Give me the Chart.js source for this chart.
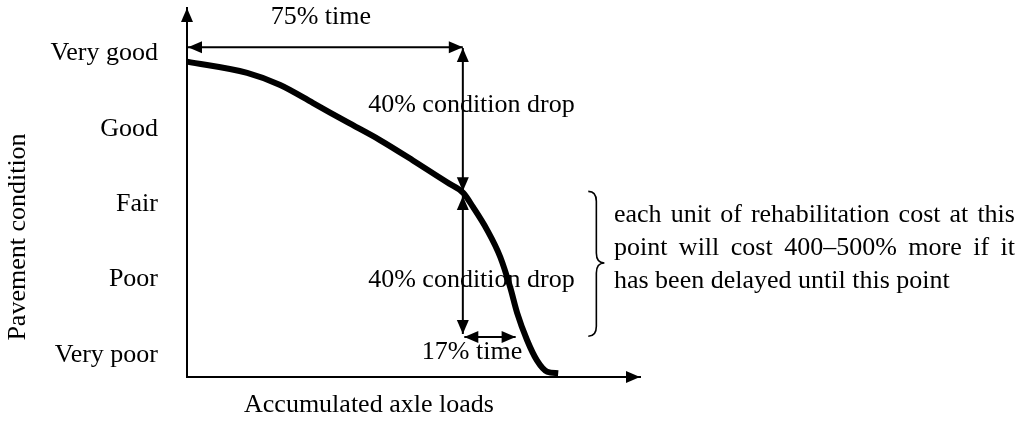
<!DOCTYPE html>
<html>
<head>
<meta charset="utf-8">
<script src="https://cdn.jsdelivr.net/npm/chart.js@4.4.0/dist/chart.umd.min.js"></script>
<style>
html, body { margin: 0; padding: 0; background: #fff; }
#wrap { width: 1024px; height: 425px; position: relative; }
</style>
</head>
<body>
<div id="wrap"><canvas id="deterioro"></canvas></div>
<script>
// curve: x = share of the life (% of time / axle loads), y = condition level
var loadPct = [0, 16.4, 25.4, 34.4, 43.6, 52.6, 61.6, 70.9, 75.3, 78.0, 81.8, 85.4, 88.1, 90.0, 92.7, 95.4, 98.2, 101.2];
var condition = [4.89, 4.74, 4.58, 4.34, 4.09, 3.85, 3.58, 3.29, 3.15, 2.96, 2.66, 2.30, 1.90, 1.56, 1.20, 0.93, 0.78, 0.76];
var conditionLevels = [1, 2, 3, 4, 5];
var conditionLabels = ['Very poor', 'Poor', 'Fair', 'Good', 'Very good'];
var noteLines = ['each unit of rehabilitation cost at this', 'point will cost 400\u2013500% more if it', 'has been delayed until this point'];

var FAMILY = '"Liberation Serif", "Times New Roman", serif';
var FONT = '26px ' + FAMILY;

function head(ctx, x, y, ang, len, half) {
    ctx.save();
    ctx.translate(x, y);
    ctx.rotate(ang);
    ctx.beginPath();
    ctx.moveTo(0, 0);
    ctx.lineTo(-len, -half);
    ctx.lineTo(-len, half);
    ctx.closePath();
    ctx.fill();
    ctx.restore();
}

// line with an arrow head on both ends
function dim(ctx, x1, y1, x2, y2) {
    var ang = Math.atan2(y2 - y1, x2 - x1);
    ctx.lineWidth = 2;
    ctx.beginPath();
    ctx.moveTo(x1, y1);
    ctx.lineTo(x2, y2);
    ctx.stroke();
    head(ctx, x2, y2, ang, 14, 6);
    head(ctx, x1, y1, ang + Math.PI, 14, 6);
}

function justified(ctx, text, x, y, w) {
    var words = text.split(' ');
    var sum = 0;
    words.forEach(function (wd) { sum += ctx.measureText(wd).width; });
    var gap = (w - sum) / (words.length - 1);
    var cx = x;
    words.forEach(function (wd) {
        ctx.fillText(wd, cx, y);
        cx += ctx.measureText(wd).width + gap;
    });
}

function noPad(s) {
    s.paddingTop = 0; s.paddingBottom = 0; s.paddingLeft = 0; s.paddingRight = 0;
}

var notas = {
    id: 'notas',
    afterDraw: function (chart) {
        var ctx = chart.ctx;
        var xs = chart.scales.x, ys = chart.scales.y;
        var a = chart.chartArea;
        var px = function (v) { return xs.getPixelForValue(v); };
        var py = function (v) { return ys.getPixelForValue(v); };
        ctx.save();
        ctx.fillStyle = '#000';
        ctx.strokeStyle = '#000';

        // axis arrows
        head(ctx, a.left, a.top, -Math.PI / 2, 14, 6);
        head(ctx, a.right, a.bottom, 0, 14, 6);

        // dimension arrows
        dim(ctx, px(0) + 1, py(5.08), px(75.2), py(5.08));
        dim(ctx, px(75.2), py(5.07), px(75.2), py(3.17));
        dim(ctx, px(75.2), py(3.11), px(75.2), py(1.28));
        dim(ctx, px(75.6), py(1.24), px(89.6), py(1.24));

        ctx.font = FONT;
        ctx.textBaseline = 'middle';
        ctx.textAlign = 'center';
        ctx.fillText('75% time', px(36.5), py(5.48));
        ctx.fillText('17% time', px(77.7), py(1.04));
        ctx.textAlign = 'left';
        ctx.fillText('40% condition drop', px(49.4), py(4.31));
        ctx.fillText('40% condition drop', px(49.4), py(1.99));

        // brace
        var xl = px(109.4), xm = px(111.6), xr = px(113.8);
        var yt = py(3.17), ymid = py(2.22), yb = py(1.25), r = 10;
        ctx.lineWidth = 1.6;
        ctx.beginPath();
        ctx.moveTo(xl, yt);
        ctx.quadraticCurveTo(xm, yt, xm, yt + r);
        ctx.lineTo(xm, ymid - r);
        ctx.quadraticCurveTo(xm, ymid, xr, ymid);
        ctx.quadraticCurveTo(xm, ymid, xm, ymid + r);
        ctx.lineTo(xm, yb - r);
        ctx.quadraticCurveTo(xm, yb, xl, yb);
        ctx.stroke();

        // note beside the brace
        var nx = px(116.4), nw = 401;
        justified(ctx, noteLines[0], nx, py(2.854), nw);
        justified(ctx, noteLines[1], nx, py(2.417), nw);
        ctx.fillText(noteLines[2], nx, py(1.98));

        // axis titles
        ctx.textAlign = 'center';
        ctx.fillText('Accumulated axle loads', px(49.6), a.bottom + 28);
        ctx.translate(18, 237);
        ctx.rotate(-Math.PI / 2);
        ctx.fillText('Pavement condition', 0, 0);
        ctx.restore();
    }
};

var ctx = document.getElementById('deterioro').getContext('2d');
var chart = new Chart(ctx, {
    type: 'line',
    data: {
        labels: loadPct,
        datasets: [{
            label: 'Pavement condition',
            data: loadPct.map(function (x, i) { return { x: x, y: condition[i] }; }),
            borderColor: '#000',
            borderWidth: 6,
            pointRadius: 0,
            cubicInterpolationMode: 'monotone',
            fill: false,
            clip: false
        }]
    },
    options: {
        responsive: true,
        maintainAspectRatio: false,
        animation: false,
        layout: { padding: { top: 8, right: 384, left: 0, bottom: 0 } },
        plugins: { legend: { display: false }, tooltip: { enabled: false } },
        scales: {
            x: {
                type: 'linear',
                min: 0,
                max: 123.5,
                grid: { display: false, drawTicks: false },
                border: { color: '#000', width: 2 },
                ticks: { display: false },
                afterFit: function (s) { s.height = 48; noPad(s); }
            },
            y: {
                type: 'linear',
                min: 0.71,
                max: 5.6,
                grid: { display: false, drawTicks: false },
                border: { color: '#000', width: 2 },
                afterBuildTicks: function (s) {
                    s.ticks = conditionLevels.map(function (v) { return { value: v }; });
                },
                ticks: {
                    padding: 29,
                    color: '#000',
                    font: { family: FAMILY, size: 26 },
                    callback: function (value, index) { return conditionLabels[index]; }
                },
                afterFit: function (s) { s.width = 187; noPad(s); }
            }
        }
    },
    plugins: [notas]
});
</script>
</body>
</html>
